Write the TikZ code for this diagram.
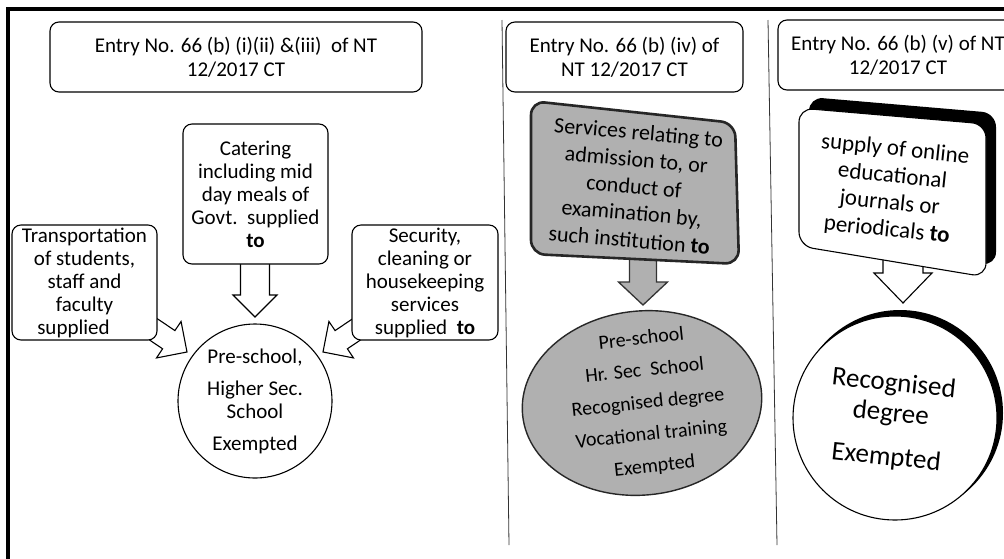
\documentclass[tikz,border=0pt]{standalone}
\usepackage{fontspec}
\setmainfont{Carlito}
\usetikzlibrary{shapes.geometric}
\definecolor{gfill}{RGB}{176,176,176}
\newcommand{\blockarr}[7]{%
  \begin{scope}[shift={(#1)}, rotate=#2]
    \draw[#7] (0,0) -- (-#4,#5) -- (-#4,#6) -- (-#3,#6) -- (-#3,-#6) -- (-#4,-#6) -- (-#4,-#5) -- cycle;
  \end{scope}}
\begin{document}
\begin{tikzpicture}[x=1pt,y=-1pt,
  txt/.style={align=center, inner sep=0pt, font=\fontsize{21}{23}\selectfont},
  hdr/.style={draw, line width=1.1pt, rounded corners=9pt, align=center, inner sep=0pt, font=\fontsize{21}{24}\selectfont},
  sbox/.style={draw, line width=1.1pt, rounded corners=9pt, fill=white, txt},
  arrw/.style={draw, line width=1.1pt, fill=white, line join=miter},
  garrw/.style={draw=black!80, line width=1.3pt, fill=gfill},
  gbox/.style={draw=black!85, line width=2.6pt, fill=gfill, rounded corners=14pt},
  wbox/.style={draw, line width=1.1pt, fill=white, rounded corners=14pt},
  divider/.style={line width=0.8pt, black!80}]
\useasboundingbox (0,0) rectangle (1004,558);
\fill[white] (0,0) rectangle (1004,558);
% frame
\draw[line width=3.5pt] (8,560) -- (8,9) -- (1010,9);
% dividers
\draw[divider] (502,20) -- (509,545);
\draw[divider] (768,20) -- (777,545);
% headers
\node[hdr, minimum width=372, minimum height=70] (h1) at (236,57) {Entry No. 66 (b) (i)(ii) \&(iii)\ \ of NT\\12/2017 CT};
\node[hdr, minimum width=237, minimum height=70] (h2) at (624.5,57) {Entry No. 66 (b) (iv) of\\NT 12/2017 CT};
\node[hdr, minimum width=240, minimum height=70] (h3) at (898,55) {Entry No. 66 (b) (v) of NT\\12/2017 CT};
% left column arrows
\coordinate (t1) at (255,317);
\blockarr{t1}{-90}{60}{22}{22}{14.5}{arrw}
\coordinate (t2) at (187,352);
\blockarr{t2}{-34}{50}{22}{22}{11}{arrw}
\coordinate (t3) at (323,352);
\blockarr{t3}{-146}{50}{22}{22}{11}{arrw}
% left column boxes
\node[sbox, minimum width=145, minimum height=140] (cat) at (255.5,194) {Catering\\including mid\\day meals of\\Govt.\ \ supplied\\\textbf{to}};
\node[sbox, minimum width=145, minimum height=115] (tra) at (84.5,282.5) {Transportation\\of students,\\staff and\\faculty\\supplied\hspace*{22pt}};
\node[sbox, minimum width=146, minimum height=115] (sec) at (425,282.5) {Security,\\cleaning or\\housekeeping\\services\\supplied\ \ \textbf{to}};
\node[circle, draw, line width=1.1pt, fill=white, minimum size=154, txt] (c1) at (255,401) {Pre-school,\\[9pt]Higher Sec.\\School\\[9pt]Exempted};
% middle column
\coordinate (t4) at (643,305);
\blockarr{t4}{-90}{50}{23}{24.5}{13.5}{garrw}
\draw[gbox] (531,101) -- (735,123) -- (739,264) -- (531,254) -- cycle;
\node[txt, font=\fontsize{22}{27}\selectfont, rotate=-5] (gt) at (634,186) {Services relating to\\admission to, or\\conduct of\\examination by,\\such institution \textbf{to}};
\node[ellipse, draw=black!85, line width=1.4pt, fill=gfill, minimum width=240, minimum height=184, rotate=6] (el) at (642,403) {};
\node[txt, font=\fontsize{20}{32}\selectfont, rotate=6] (et) at (648,403) {Pre-school\\Hr. Sec\ \ School\\Recognised degree\\Vocational training\\Exempted};
% right column
\fill[black, rounded corners=14pt] (809,97) -- (996,113) -- (996,266) -- (809,235) -- cycle;
\coordinate (t5) at (903,303);
\blockarr{t5}{-90}{45}{30}{29}{20}{arrw}
\draw[wbox] (799,108) -- (986,124) -- (986,277) -- (799,246) -- cycle;
\node[txt, font=\fontsize{23}{27}\selectfont, rotate=-6] (rt) at (891,190) {supply of online\\educational\\journals or\\periodicals \textbf{to}};
\fill[black] (900,413) circle[radius=103];
\draw[line width=1.1pt, fill=white] (895,418) circle[radius=102];
\node[txt, font=\fontsize{27}{30}\selectfont, rotate=-6] (ct) at (890,421) {Recognised\\degree\\[14pt]Exempted};
\end{tikzpicture}
\end{document}
